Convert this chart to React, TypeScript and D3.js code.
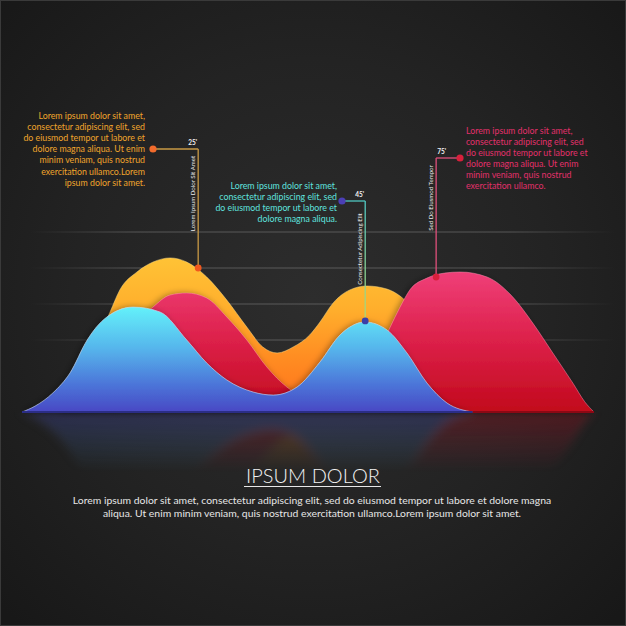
import React from "react";
import * as d3 from "d3";

// ---- data (x: 0..100 horizontal units, y: 0..100 value units) ----
const orangeSeries: [number, number][] = [
  [4.9, 0], [10.1, 17.8], [13.6, 42.8], [15.4, 55.6], [17.1, 67.8], [20.1, 77.8],
  [22.9, 83.3], [25.9, 85.6], [28.8, 83.3], [32.3, 75], [35.8, 62.2], [39.3, 47.2],
  [42.1, 36.1], [44.6, 32.8], [47.4, 36.1], [50.3, 42.8], [52.1, 50], [54.4, 60.6],
  [57.3, 67.8], [60.3, 70], [63.8, 68.3], [66.1, 64.4], [69.6, 52.2], [74.8, 26.1],
  [79.2, 6.7], [81.8, 0],
];
const pinkSeries: [number, number][] = [
  [6.6, 0], [12.8, 17.8], [18, 42.8], [22.9, 58.3], [25.9, 65], [28.8, 66.1],
  [32.3, 63.3], [35.8, 52.8], [39.3, 40], [42.8, 25], [46.3, 13.9], [50.3, 7.8],
  [54.7, 7.8], [58.7, 16.1], [62.1, 31.7], [64.3, 46.7], [66.1, 58.3], [67.8, 67.8],
  [70.8, 74.4], [73.9, 77.2], [76.6, 77.8], [81.3, 75], [85.8, 63.9], [89.3, 49.4],
  [92.8, 32.8], [96.3, 16.1], [98.4, 5.6], [100, 0],
];
const blueSeries: [number, number][] = [
  [0, 0], [2.3, 3.3], [5.4, 10.6], [8.4, 21.7], [11.4, 40], [14.2, 51.1],
  [19.4, 58.3], [24.1, 55.6], [28.8, 40], [32.3, 27.2], [35.8, 17.8], [40.4, 11.1],
  [43.9, 9.4], [48.1, 13.9], [52.1, 27.8], [55.6, 42.8], [60, 50], [63.8, 45.6],
  [67.3, 32.8], [70.8, 16.1], [74.3, 5], [78.8, 0],
];
const gridValues = [40, 60, 80, 100];

const markerValues: [number, number][] = [
  [30.8, 80],
  [60, 50.6],
  [72.4, 75],
];
const markerLabels = ["25'", "45'", "75'"];
const markerCaptions = [
  "Lorem Ipsum Dolor Sit Amet",
  "Consectetur Adipiscing Elit",
  "Sed Do Eiusmod Tempor",
];

const orangeText = [
  "Lorem ipsum dolor sit amet,",
  "consectetur adipiscing elit, sed",
  "do eiusmod tempor ut labore et",
  "dolore magna aliqua. Ut enim",
  "minim veniam, quis nostrud",
  "exercitation ullamco.Lorem",
  "ipsum dolor sit amet.",
];
const cyanText = [
  "Lorem ipsum dolor sit amet,",
  "consectetur adipiscing elit, sed",
  "do eiusmod tempor ut labore et",
  "dolore magna aliqua.",
];
const pinkText = [
  "Lorem ipsum dolor sit amet,",
  "consectetur adipiscing elit, sed",
  "do eiusmod tempor ut labore et",
  "dolore magna aliqua. Ut enim",
  "minim veniam, quis nostrud",
  "exercitation ullamco.",
];
const titleText = "IPSUM DOLOR";
const bodyText = [
  "Lorem ipsum dolor sit amet, consectetur adipiscing elit, sed do eiusmod tempor ut labore et dolore magna",
  "aliqua. Ut enim minim veniam, quis nostrud exercitation ullamco.Lorem ipsum dolor sit amet.",
];

// ---- layout ----
const W = 626;
const H = 626;
const BASE = 412;
const FONT = "Lato, 'Open Sans', sans-serif";

export default function App() {
  const x = d3.scaleLinear().domain([0, 100]).range([22, 594]);
  const y = d3.scaleLinear().domain([0, 100]).range([BASE, 232]);

  const area = d3
    .area<[number, number]>()
    .x((d) => x(d[0]))
    .y0(y(0))
    .y1((d) => y(d[1]))
    .curve(d3.curveMonotoneX);
  const line = d3
    .line<[number, number]>()
    .x((d) => x(d[0]))
    .y((d) => y(d[1]))
    .curve(d3.curveMonotoneX);

  const annot = [
    { start: [153, 149], color: "#c99a45", dot: "#f26b2c", end: "#f0581e", grad: null as string | null, lx: -1, anchor: "end", rt: 157, rb: 230 },
    { start: [342, 201], color: "#4fc6c0", dot: "#4b3fb5", end: "#3b3ea8", grad: "url(#cyanLead)", lx: -1, anchor: "end", rt: 214, rb: 284 },
    { start: [460, 158], color: "#e0507c", dot: "#d8203c", end: "#d8203c", grad: null, lx: 1, anchor: "start", rt: 165, rb: 231 },
  ];

  const areas = (
    <>
      <path d={area(orangeSeries) || ""} fill="url(#gOrange)" />
      <path d={line(orangeSeries) || ""} fill="none" stroke="#ffe08a" strokeOpacity={0.6} strokeWidth={0.8} />
      <path d={area(pinkSeries) || ""} fill="url(#gPink)" filter="url(#shadow)" />
      <path d={line(pinkSeries) || ""} fill="none" stroke="#ff9ab8" strokeOpacity={0.55} strokeWidth={0.8} />
      <path d={area(blueSeries) || ""} fill="url(#gBlue)" filter="url(#shadow)" />
      <path d={line(blueSeries) || ""} fill="none" stroke="#c8d8f0" strokeOpacity={0.7} strokeWidth={0.9} />
    </>
  );

  return (
    <svg
      width={W}
      height={H}
      viewBox={`0 0 ${W} ${H}`}
      style={{ position: "absolute", left: 0, top: 0, display: "block" }}
    >
      <defs>
        <radialGradient id="bg" cx="50%" cy="48%" r="70%">
          <stop offset="0%" stopColor="#2d2d2d" />
          <stop offset="55%" stopColor="#232323" />
          <stop offset="100%" stopColor="#181818" />
        </radialGradient>
        <linearGradient id="gOrange" gradientUnits="userSpaceOnUse" x1="0" y1="255" x2="0" y2={BASE}>
          <stop offset="0%" stopColor="#ffc436" />
          <stop offset="35%" stopColor="#ffae2c" />
          <stop offset="65%" stopColor="#ff8d22" />
          <stop offset="100%" stopColor="#ff6f1a" />
        </linearGradient>
        <linearGradient id="gPink" gradientUnits="userSpaceOnUse" x1="0" y1="270" x2="0" y2={BASE}>
          <stop offset="0%" stopColor="#f0407a" />
          <stop offset="50%" stopColor="#dc2049" />
          <stop offset="100%" stopColor="#c20a1c" />
        </linearGradient>
        <linearGradient id="gBlue" gradientUnits="userSpaceOnUse" x1="0" y1="305" x2="0" y2={BASE}>
          <stop offset="0%" stopColor="#64f4fb" />
          <stop offset="40%" stopColor="#56b6ec" />
          <stop offset="75%" stopColor="#4c74d8" />
          <stop offset="100%" stopColor="#4848c4" />
        </linearGradient>
        <linearGradient id="gridFade" gradientUnits="userSpaceOnUse" x1="30" y1="0" x2="615" y2="0">
          <stop offset="0%" stopColor="#777" stopOpacity={0} />
          <stop offset="18%" stopColor="#777" stopOpacity={0.6} />
          <stop offset="82%" stopColor="#777" stopOpacity={0.6} />
          <stop offset="100%" stopColor="#777" stopOpacity={0} />
        </linearGradient>
        <linearGradient id="cyanLead" gradientUnits="userSpaceOnUse" x1="0" y1="200" x2="0" y2="322">
          <stop offset="0%" stopColor="#4fc8c4" />
          <stop offset="100%" stopColor="#b0d870" />
        </linearGradient>
        <linearGradient id="reflGrad" x1="0" y1="0" x2="0" y2="1">
          <stop offset="0%" stopColor="#fff" stopOpacity={0.28} />
          <stop offset="100%" stopColor="#fff" stopOpacity={0} />
        </linearGradient>
        <mask id="reflMask" maskUnits="userSpaceOnUse" x="0" y={BASE} width={W} height="80">
          <rect x="0" y={BASE} width={W} height="60" fill="url(#reflGrad)" />
        </mask>
        <filter id="shadow" x="-10%" y="-10%" width="120%" height="120%">
          <feDropShadow dx="-2" dy="0" stdDeviation="3" floodColor="#000" floodOpacity="0.35" />
        </filter>
        <filter id="blur" x="-10%" y="-10%" width="120%" height="120%">
          <feGaussianBlur stdDeviation="5" />
        </filter>
      </defs>

      <rect x="0" y="0" width={W} height={H} fill="url(#bg)" />
      <rect x="0.5" y="0.5" width={W - 1} height={H - 1} fill="none" stroke="#3a3a3a" strokeWidth={1} />

      {/* grid */}
      {gridValues.map((v) => (
        <line key={v} x1={30} x2={615} y1={y(v)} y2={y(v)} stroke="url(#gridFade)" strokeWidth={1} />
      ))}

      {/* reflection */}
      <g mask="url(#reflMask)">
        <g transform={`translate(0, ${2 * BASE}) scale(1,-1)`} filter="url(#blur)">
          {areas}
        </g>
      </g>

      {/* areas */}
      {areas}
      {/* base edge */}
      <line x1={x(0)} x2={x(78.8)} y1={BASE} y2={BASE} stroke="#2b2d86" strokeWidth={2} />
      <line x1={x(78.8)} x2={x(100)} y1={BASE} y2={BASE} stroke="#8c0814" strokeWidth={2} />

      {/* leader lines */}
      {markerValues.map((m, i) => {
        const a = annot[i];
        const kx = x(m[0]);
        const ky = y(m[1]);
        const sx = a.start[0];
        const sy = a.start[1];
        const stroke = a.grad || a.color;
        return (
          <g key={i}>
            <line x1={sx} x2={kx} y1={sy} y2={sy} stroke={a.color} strokeWidth={1.3} />
            <line x1={kx} x2={kx} y1={sy} y2={ky} stroke={stroke} strokeWidth={1.3} />
            <circle cx={sx} cy={sy} r={3.6} fill={a.dot} />
            <circle cx={kx} cy={ky} r={3.4} fill={a.end} />
            <text
              x={kx + a.lx}
              y={sy - 4}
              fontSize={6.5}
              fontWeight={700}
              fill="#f2f2f2"
              textAnchor={a.anchor}
              fontFamily={FONT}
            >
              {markerLabels[i]}
            </text>
            <text
              transform={`translate(${kx - 3}, ${(a.rt + a.rb) / 2}) rotate(-90)`}
              fontSize={6.1}
              fill="#eeeeee"
              textAnchor="middle"
              fontFamily={FONT}
            >
              {markerCaptions[i]}
            </text>
          </g>
        );
      })}

      {/* text blocks */}
      <g fontFamily={FONT} fontSize={8.8}>
        {orangeText.map((t, i) => (
          <text key={i} x={145} y={119 + i * 11.1} textAnchor="end" fill="#f0a52c">
            {t}
          </text>
        ))}
        {cyanText.map((t, i) => (
          <text key={i} x={337} y={188.5 + i * 11.1} textAnchor="end" fill="#5fe2df">
            {t}
          </text>
        ))}
        {pinkText.map((t, i) => (
          <text key={i} x={466} y={133.5 + i * 11.1} textAnchor="start" fill="#e3306b">
            {t}
          </text>
        ))}
      </g>

      {/* title & body */}
      <text x={313} y={483} textAnchor="middle" fontFamily={FONT} fontSize={20} fontWeight={300} fill="#f2f2f2">
        {titleText}
      </text>
      <line x1={244} x2={381} y1={486.5} y2={486.5} stroke="#e8e8e8" strokeWidth={1.2} />
      {bodyText.map((t, i) => (
        <text key={i} x={312} y={504 + i * 13} textAnchor="middle" fontFamily={FONT} fontSize={10.4} fill="#e6e6e6">
          {t}
        </text>
      ))}
    </svg>
  );
}
